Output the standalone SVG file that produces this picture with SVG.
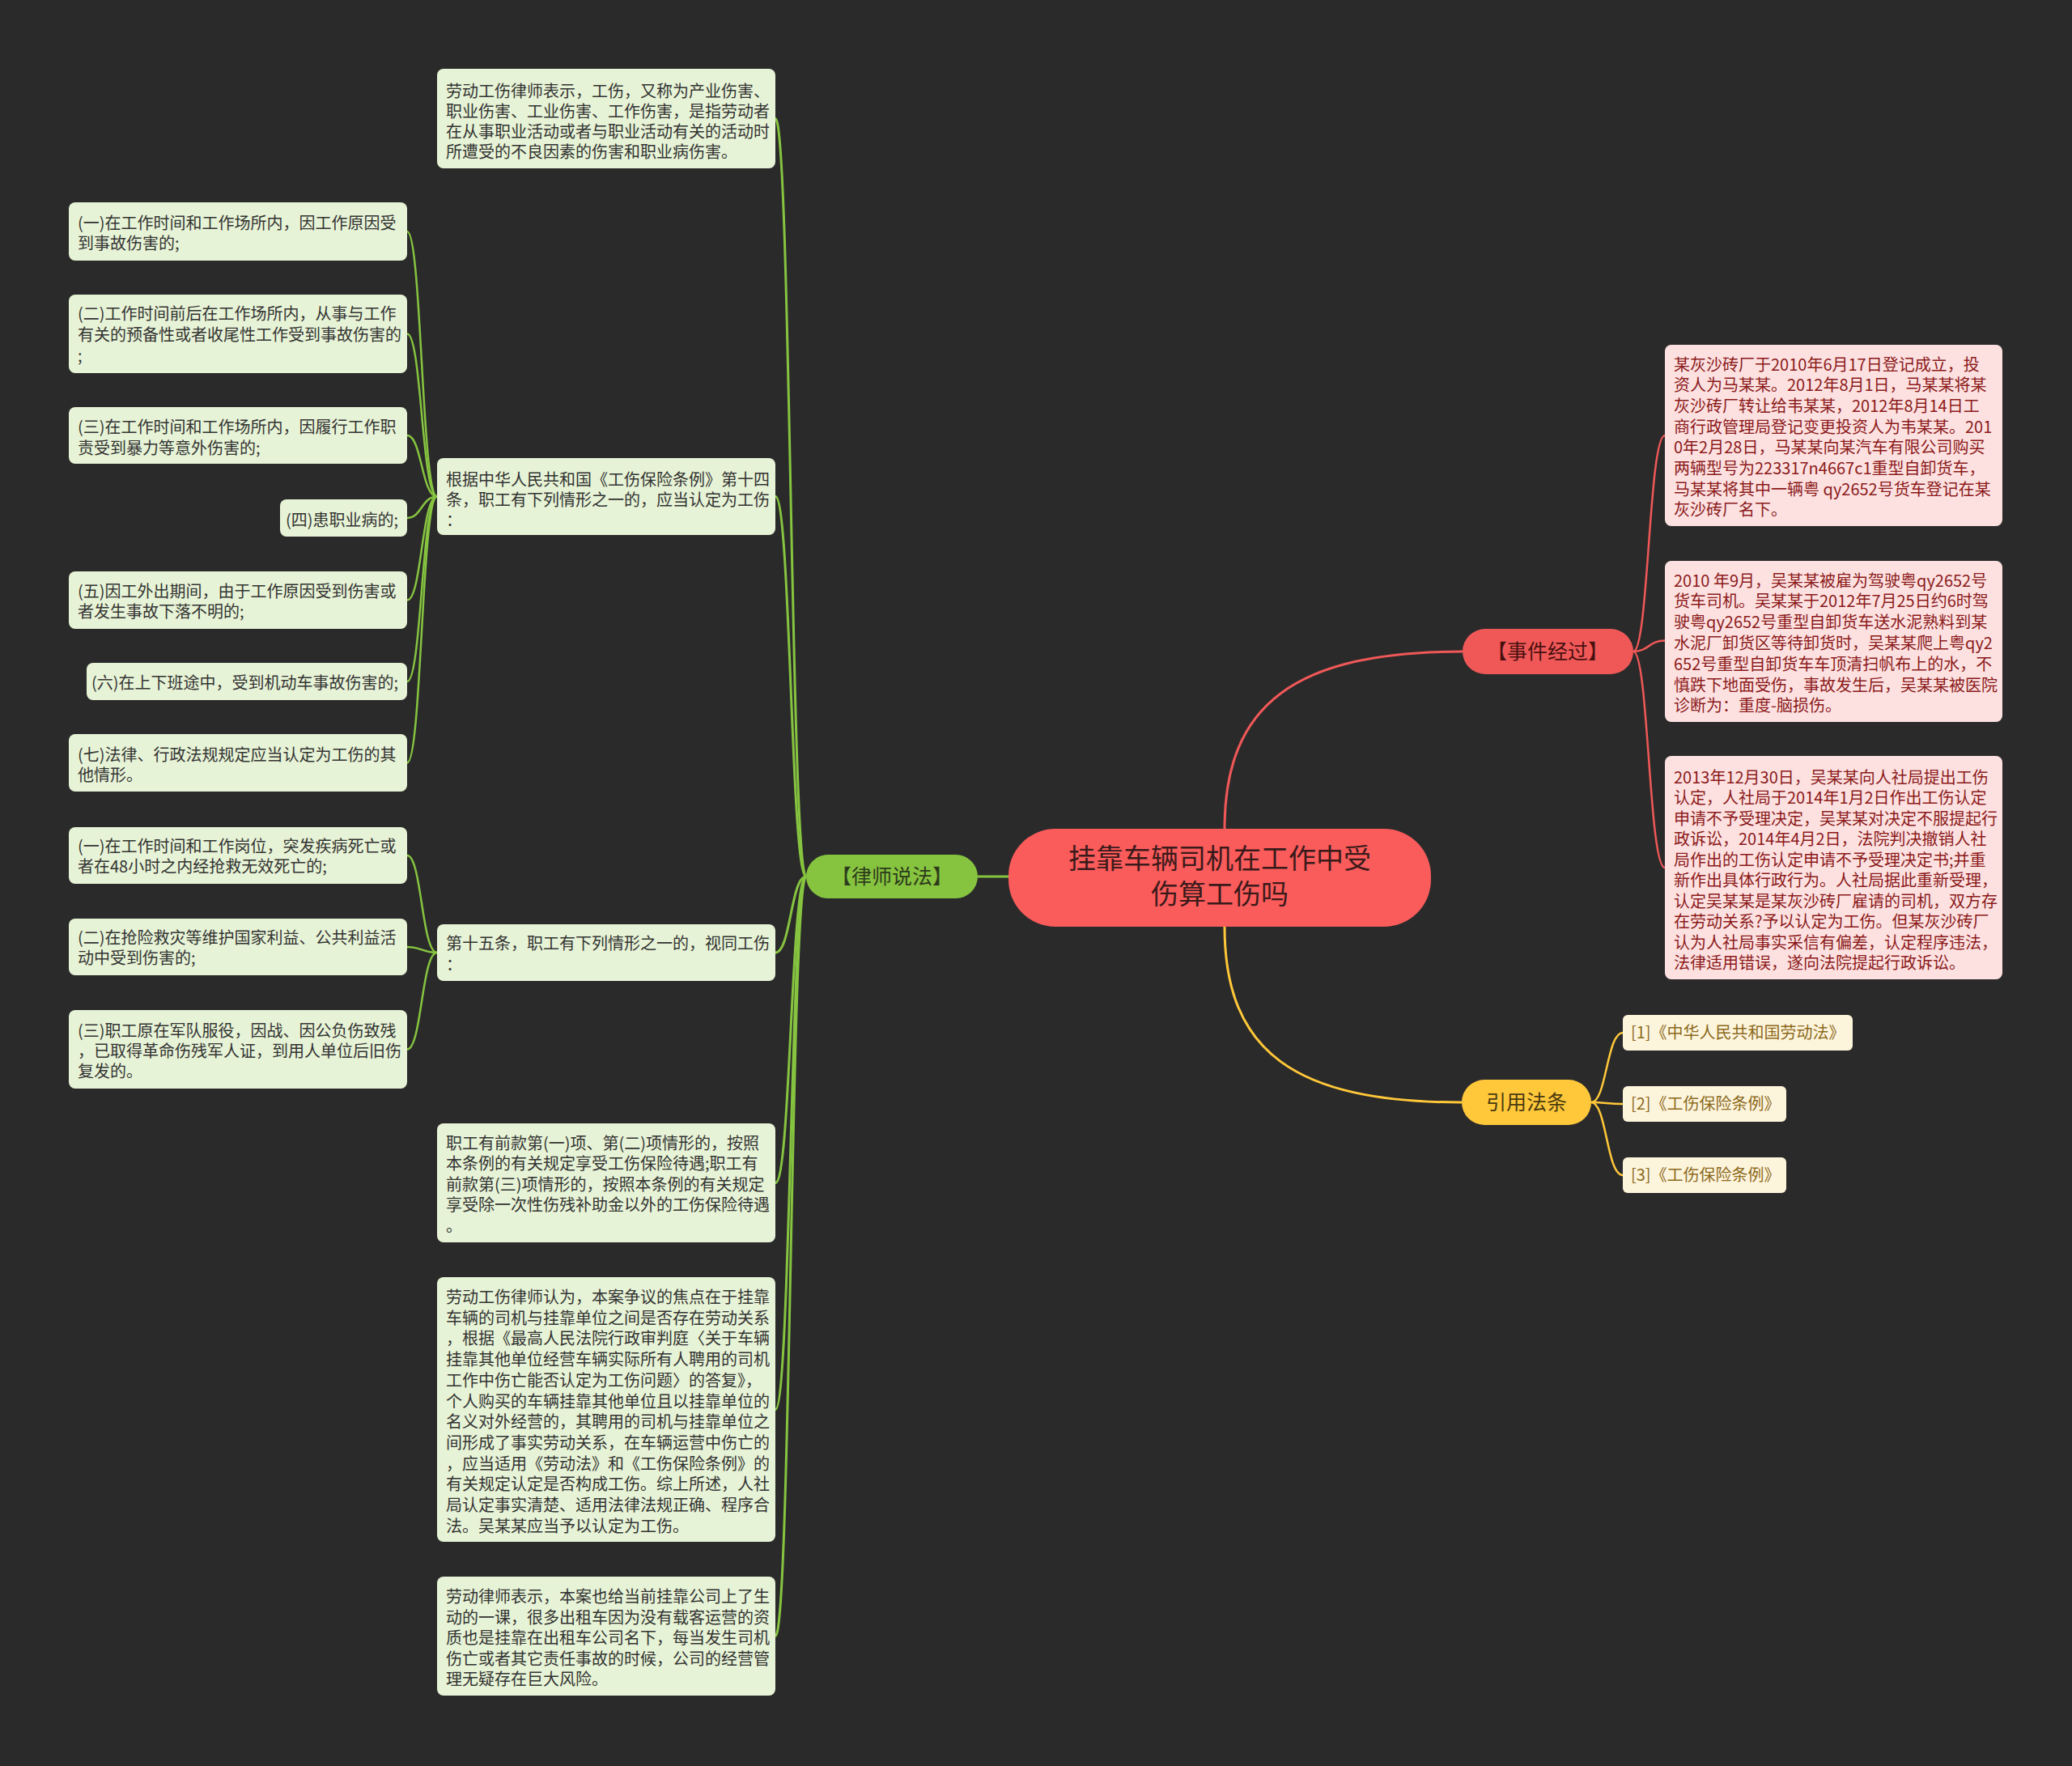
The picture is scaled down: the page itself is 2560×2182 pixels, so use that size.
<svg xmlns="http://www.w3.org/2000/svg" width="2560" height="2182" viewBox="0 0 2560 2182">
<style>
text{font-family:"Noto Sans CJK SC","Noto Sans",sans-serif;}
.gbox{fill:#e7f3d6;}
.pbox{fill:#fde1e1;}
.ybox{fill:#fdf4dc;}
.gt{font-size:20px;fill:#333333;}
.pt{font-size:20px;fill:#8b1a1a;}
.yt{font-size:20px;fill:#8c6a1c;}
.cg2{fill:none;stroke:#86c440;stroke-width:3;}
.cg3{fill:none;stroke:#86c440;stroke-width:2.5;}
.cr{fill:none;stroke:#f05858;stroke-width:2.5;}
.cy{fill:none;stroke:#ffc83a;stroke-width:2.5;}
</style>
<rect x="0" y="0" width="2560" height="2182" fill="#2a2a2a"/>
<g id="connectors">
<path class="cg2" d="M1246 1083 L1208 1083"/>
<path class="cr" d="M1513 1024 C1513 870 1600 805 1807 805" style="stroke-width:3"/>
<path class="cy" d="M1513 1145 C1513 1300 1600 1362 1806 1362" style="stroke-width:3"/>
<path class="cg2" d="M996 1083 C977 1083 977 146.5 958 146.5"/>
<path class="cg2" d="M996 1083 C977 1083 977 613.5 958 613.5"/>
<path class="cg2" d="M996 1083 C977 1083 977 1177 958 1177"/>
<path class="cg2" d="M996 1083 C977 1083 977 1461.5 958 1461.5"/>
<path class="cg2" d="M996 1083 C977 1083 977 1741.5 958 1741.5"/>
<path class="cg2" d="M996 1083 C977 1083 977 2021.5 958 2021.5"/>
<path class="cg3" d="M540 613.5 C521 613.5 521 286 503 286"/>
<path class="cg3" d="M540 613.5 C521 613.5 521 412.5 503 412.5"/>
<path class="cg3" d="M540 613.5 C521 613.5 521 538 503 538"/>
<path class="cg3" d="M540 613.5 C521 613.5 521 640 503 640"/>
<path class="cg3" d="M540 613.5 C521 613.5 521 741.5 503 741.5"/>
<path class="cg3" d="M540 613.5 C521 613.5 521 842 503 842"/>
<path class="cg3" d="M540 613.5 C521 613.5 521 942.5 503 942.5"/>
<path class="cg3" d="M540 1177 C521 1177 521 1057 503 1057"/>
<path class="cg3" d="M540 1177 C521 1177 521 1170 503 1170"/>
<path class="cg3" d="M540 1177 C521 1177 521 1296.5 503 1296.5"/>
<path class="cr" d="M2018 805 C2037 805 2037 538 2057 538"/>
<path class="cr" d="M2018 805 C2037 805 2037 791.5 2057 791.5"/>
<path class="cr" d="M2018 805 C2037 805 2037 1072 2057 1072"/>
<path class="cy" d="M1966 1362 C1985 1362 1985 1276 2005 1276"/>
<path class="cy" d="M1966 1362 C1985 1362 1985 1364 2005 1364"/>
<path class="cy" d="M1966 1362 C1985 1362 1985 1452 2005 1452"/>
</g>
<g id="center">
<rect x="1246" y="1024" width="522" height="121" rx="58" fill="#fa5b5b"/>
<text x="1507" y="1073" text-anchor="middle" style="font-size:34px;fill:#3a1a1a">挂靠车辆司机在工作中受</text>
<text x="1507" y="1117" text-anchor="middle" style="font-size:34px;fill:#3a1a1a">伤算工伤吗</text>
</g>
<g id="lawyer">
<rect x="996" y="1056" width="212" height="54" rx="27" fill="#86c440"/>
<text x="1102" y="1092" text-anchor="middle" style="font-size:25px;fill:#2d3a1a">【律师说法】</text>
</g>
<g id="event">
<rect x="1807" y="777" width="211" height="56" rx="28" fill="#f05858"/>
<text x="1912" y="814" text-anchor="middle" style="font-size:25px;fill:#4a1010">【事件经过】</text>
</g>
<g id="cite">
<rect x="1806" y="1334" width="160" height="56" rx="28" fill="#ffc83a"/>
<text x="1886" y="1371" text-anchor="middle" style="font-size:25px;fill:#4a3a10">引用法条</text>
</g>
<g id="l2-1">
<rect class="gbox" x="540" y="85" width="418" height="123" rx="8"/>
<text class="gt"><tspan x="551" y="120">劳动工伤律师表示，工伤，又称为产业伤害、</tspan><tspan x="551" y="145">职业伤害、工业伤害、工作伤害，是指劳动者</tspan><tspan x="551" y="170">在从事职业活动或者与职业活动有关的活动时</tspan><tspan x="551" y="195">所遭受的不良因素的伤害和职业病伤害。</tspan></text>
</g>
<g id="l2-2">
<rect class="gbox" x="540" y="566" width="418" height="95" rx="8"/>
<text class="gt"><tspan x="551" y="600">根据中华人民共和国《工伤保险条例》第十四</tspan><tspan x="551" y="625">条，职工有下列情形之一的，应当认定为工伤</tspan><tspan x="551" y="650">：</tspan></text>
</g>
<g id="l3-1">
<rect class="gbox" x="85" y="250" width="418" height="72" rx="8"/>
<text class="gt"><tspan x="96" y="283">(一)在工作时间和工作场所内，因工作原因受</tspan><tspan x="96" y="308">到事故伤害的;</tspan></text>
</g>
<g id="l3-2">
<rect class="gbox" x="85" y="364" width="418" height="97" rx="8"/>
<text class="gt"><tspan x="96" y="395">(二)工作时间前后在工作场所内，从事与工作</tspan><tspan x="96" y="421">有关的预备性或者收尾性工作受到事故伤害的</tspan><tspan x="96" y="447">;</tspan></text>
</g>
<g id="l3-3">
<rect class="gbox" x="85" y="503" width="418" height="70" rx="8"/>
<text class="gt"><tspan x="96" y="535">(三)在工作时间和工作场所内，因履行工作职</tspan><tspan x="96" y="561">责受到暴力等意外伤害的;</tspan></text>
</g>
<g id="l3-4">
<rect class="gbox" x="346" y="617" width="157" height="46" rx="8"/>
<text class="gt" x="492" y="650" text-anchor="end">(四)患职业病的;</text>
</g>
<g id="l3-5">
<rect class="gbox" x="85" y="706" width="418" height="71" rx="8"/>
<text class="gt"><tspan x="96" y="738">(五)因工外出期间，由于工作原因受到伤害或</tspan><tspan x="96" y="763">者发生事故下落不明的;</tspan></text>
</g>
<g id="l3-6">
<rect class="gbox" x="107" y="819" width="396" height="46" rx="8"/>
<text class="gt" x="492" y="851" text-anchor="end">(六)在上下班途中，受到机动车事故伤害的;</text>
</g>
<g id="l3-7">
<rect class="gbox" x="85" y="907" width="418" height="71" rx="8"/>
<text class="gt"><tspan x="96" y="940">(七)法律、行政法规规定应当认定为工伤的其</tspan><tspan x="96" y="965">他情形。</tspan></text>
</g>
<g id="l2-3">
<rect class="gbox" x="540" y="1142" width="418" height="70" rx="8"/>
<text class="gt"><tspan x="551" y="1173">第十五条，职工有下列情形之一的，视同工伤</tspan><tspan x="551" y="1199">：</tspan></text>
</g>
<g id="l3-8">
<rect class="gbox" x="85" y="1022" width="418" height="70" rx="8"/>
<text class="gt"><tspan x="96" y="1053">(一)在工作时间和工作岗位，突发疾病死亡或</tspan><tspan x="96" y="1078">者在48小时之内经抢救无效死亡的;</tspan></text>
</g>
<g id="l3-9">
<rect class="gbox" x="85" y="1135" width="418" height="70" rx="8"/>
<text class="gt"><tspan x="96" y="1166">(二)在抢险救灾等维护国家利益、公共利益活</tspan><tspan x="96" y="1191">动中受到伤害的;</tspan></text>
</g>
<g id="l3-10">
<rect class="gbox" x="85" y="1248" width="418" height="97" rx="8"/>
<text class="gt"><tspan x="96" y="1281">(三)职工原在军队服役，因战、因公负伤致残</tspan><tspan x="96" y="1306">，已取得革命伤残军人证，到用人单位后旧伤</tspan><tspan x="96" y="1331">复发的。</tspan></text>
</g>
<g id="l2-4">
<rect class="gbox" x="540" y="1388" width="418" height="147" rx="8"/>
<text class="gt"><tspan x="551" y="1420">职工有前款第(一)项、第(二)项情形的，按照</tspan><tspan x="551" y="1445">本条例的有关规定享受工伤保险待遇;职工有</tspan><tspan x="551" y="1471">前款第(三)项情形的，按照本条例的有关规定</tspan><tspan x="551" y="1496">享受除一次性伤残补助金以外的工伤保险待遇</tspan><tspan x="551" y="1522">。</tspan></text>
</g>
<g id="l2-5">
<rect class="gbox" x="540" y="1578" width="418" height="327" rx="8"/>
<text class="gt"><tspan x="551" y="1610">劳动工伤律师认为，本案争议的焦点在于挂靠</tspan><tspan x="551" y="1635.7">车辆的司机与挂靠单位之间是否存在劳动关系</tspan><tspan x="551" y="1661.4">，根据《最高人民法院行政审判庭〈关于车辆</tspan><tspan x="551" y="1687.1">挂靠其他单位经营车辆实际所有人聘用的司机</tspan><tspan x="551" y="1712.8">工作中伤亡能否认定为工伤问题〉的答复》，</tspan><tspan x="551" y="1738.5">个人购买的车辆挂靠其他单位且以挂靠单位的</tspan><tspan x="551" y="1764.2">名义对外经营的，其聘用的司机与挂靠单位之</tspan><tspan x="551" y="1789.9">间形成了事实劳动关系，在车辆运营中伤亡的</tspan><tspan x="551" y="1815.6">，应当适用《劳动法》和《工伤保险条例》的</tspan><tspan x="551" y="1841.3">有关规定认定是否构成工伤。综上所述，人社</tspan><tspan x="551" y="1867">局认定事实清楚、适用法律法规正确、程序合</tspan><tspan x="551" y="1892.7">法。吴某某应当予以认定为工伤。</tspan></text>
</g>
<g id="l2-6">
<rect class="gbox" x="540" y="1948" width="418" height="147" rx="8"/>
<text class="gt"><tspan x="551" y="1980">劳动律师表示，本案也给当前挂靠公司上了生</tspan><tspan x="551" y="2005.5">动的一课，很多出租车因为没有载客运营的资</tspan><tspan x="551" y="2031">质也是挂靠在出租车公司名下，每当发生司机</tspan><tspan x="551" y="2056.5">伤亡或者其它责任事故的时候，公司的经营管</tspan><tspan x="551" y="2082">理无疑存在巨大风险。</tspan></text>
</g>
<g id="ev-1">
<rect class="pbox" x="2057" y="426" width="417" height="224" rx="8"/>
<text class="pt"><tspan x="2068" y="457.5">某灰沙砖厂于2010年6月17日登记成立，投</tspan><tspan x="2068" y="483.2">资人为马某某。2012年8月1日，马某某将某</tspan><tspan x="2068" y="508.9">灰沙砖厂转让给韦某某，2012年8月14日工</tspan><tspan x="2068" y="534.6">商行政管理局登记变更投资人为韦某某。201</tspan><tspan x="2068" y="560.3">0年2月28日，马某某向某汽车有限公司购买</tspan><tspan x="2068" y="586">两辆型号为223317n4667c1重型自卸货车，</tspan><tspan x="2068" y="611.7">马某某将其中一辆粤 qy2652号货车登记在某</tspan><tspan x="2068" y="637.4">灰沙砖厂名下。</tspan></text>
</g>
<g id="ev-2">
<rect class="pbox" x="2057" y="693" width="417" height="199" rx="8"/>
<text class="pt"><tspan x="2068" y="724.5">2010 年9月，吴某某被雇为驾驶粤qy2652号</tspan><tspan x="2068" y="750.3">货车司机。吴某某于2012年7月25日约6时驾</tspan><tspan x="2068" y="776.1">驶粤qy2652号重型自卸货车送水泥熟料到某</tspan><tspan x="2068" y="801.9">水泥厂卸货区等待卸货时，吴某某爬上粤qy2</tspan><tspan x="2068" y="827.7">652号重型自卸货车车顶清扫帆布上的水，不</tspan><tspan x="2068" y="853.5">慎跌下地面受伤，事故发生后，吴某某被医院</tspan><tspan x="2068" y="879.3">诊断为：重度-脑损伤。</tspan></text>
</g>
<g id="ev-3">
<rect class="pbox" x="2057" y="934" width="417" height="276" rx="8"/>
<text class="pt"><tspan x="2068" y="967.5">2013年12月30日，吴某某向人社局提出工伤</tspan><tspan x="2068" y="993">认定，人社局于2014年1月2日作出工伤认定</tspan><tspan x="2068" y="1018.5">申请不予受理决定，吴某某对决定不服提起行</tspan><tspan x="2068" y="1044">政诉讼，2014年4月2日，法院判决撤销人社</tspan><tspan x="2068" y="1069.5">局作出的工伤认定申请不予受理决定书;并重</tspan><tspan x="2068" y="1095">新作出具体行政行为。人社局据此重新受理，</tspan><tspan x="2068" y="1120.5">认定吴某某是某灰沙砖厂雇请的司机，双方存</tspan><tspan x="2068" y="1146">在劳动关系?予以认定为工伤。但某灰沙砖厂</tspan><tspan x="2068" y="1171.5">认为人社局事实采信有偏差，认定程序违法，</tspan><tspan x="2068" y="1197">法律适用错误，遂向法院提起行政诉讼。</tspan></text>
</g>
<g id="ref-1">
<rect class="ybox" x="2005" y="1254" width="284" height="44" rx="6"/>
<text class="yt" x="2015" y="1283">[1]《中华人民共和国劳动法》</text>
</g>
<g id="ref-2">
<rect class="ybox" x="2005" y="1342" width="202" height="44" rx="6"/>
<text class="yt" x="2015" y="1371">[2]《工伤保险条例》</text>
</g>
<g id="ref-3">
<rect class="ybox" x="2005" y="1430" width="202" height="44" rx="6"/>
<text class="yt" x="2015" y="1459">[3]《工伤保险条例》</text>
</g>
</svg>
